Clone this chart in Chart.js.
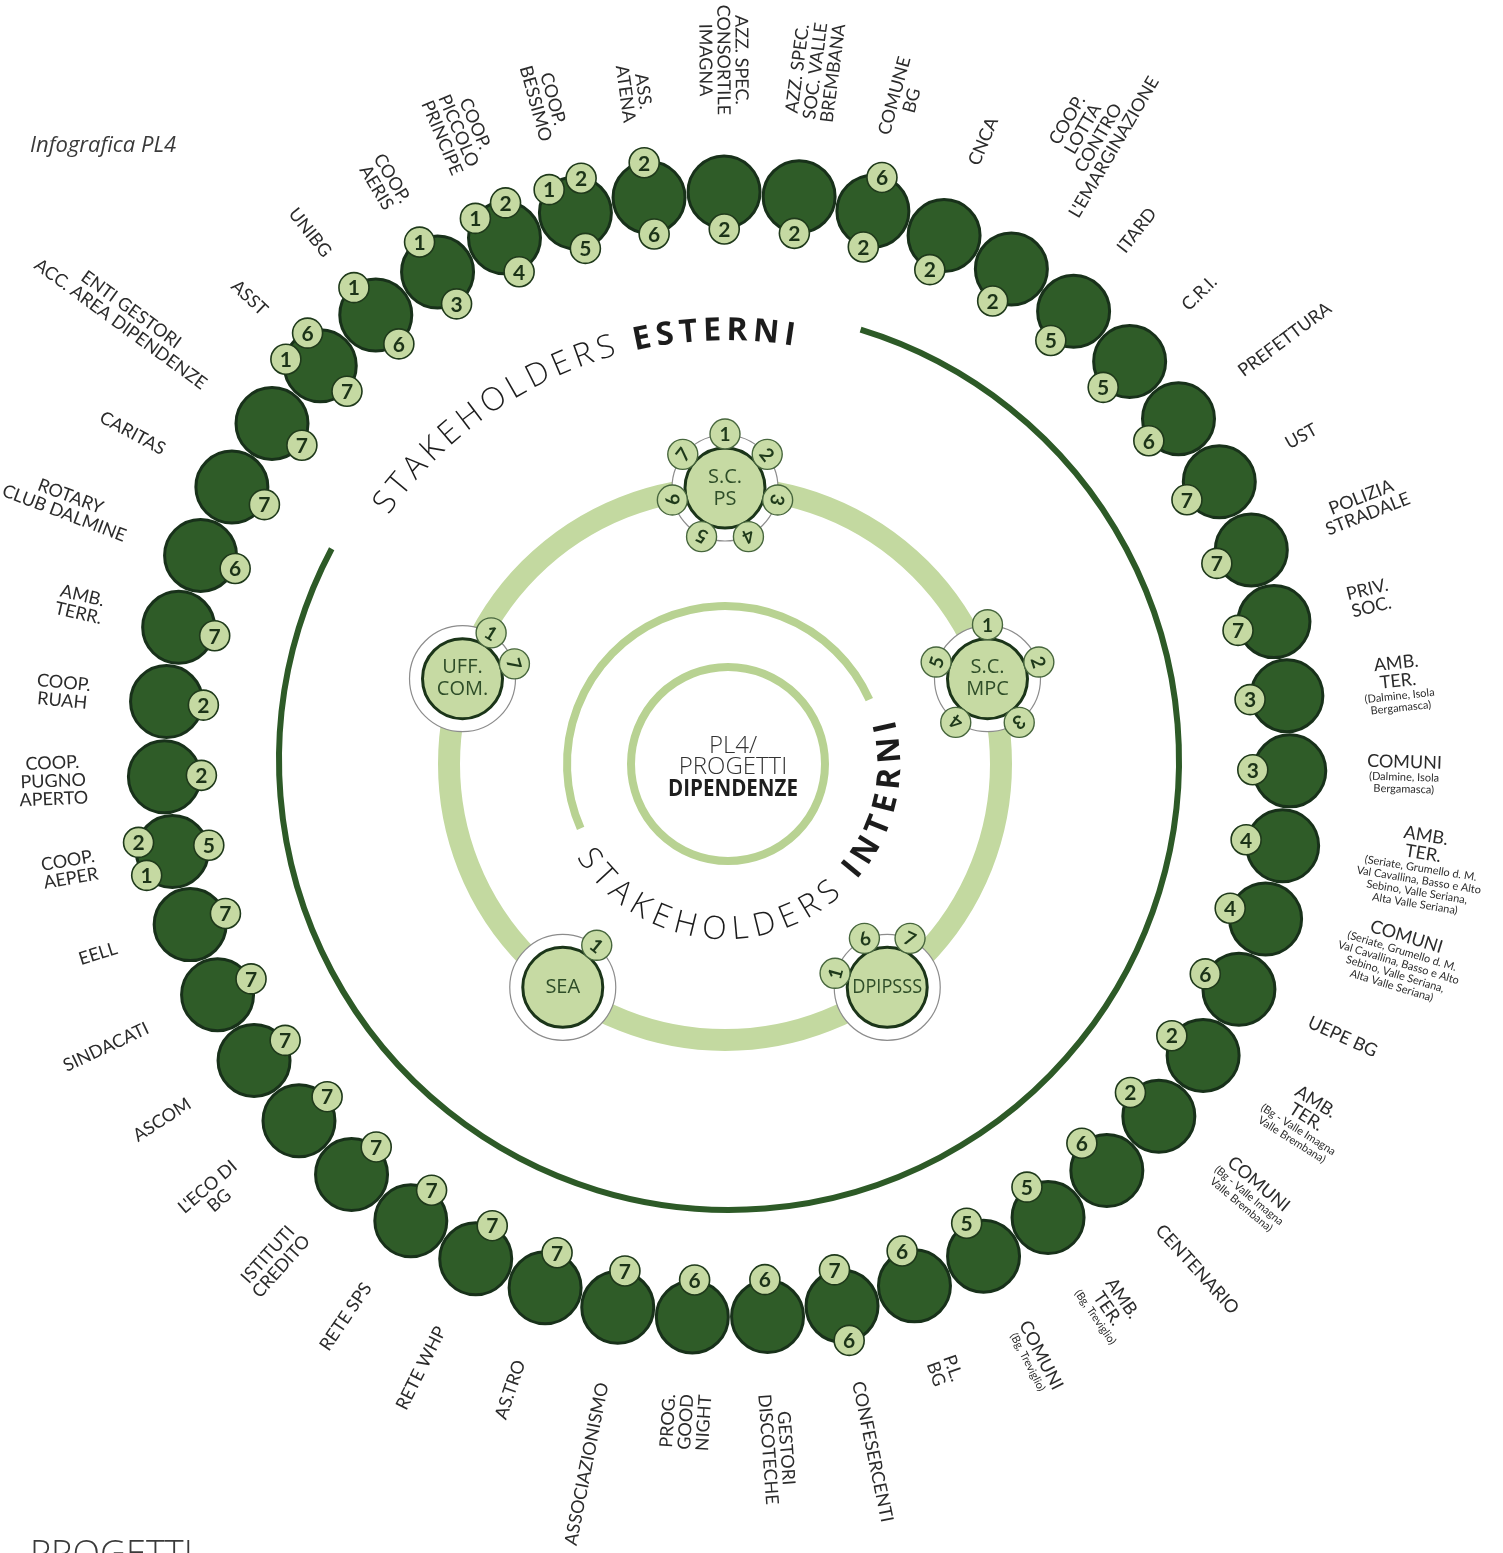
<!DOCTYPE html>
<html>
<head>
<meta charset="utf-8">
<title>Infografica PL4</title>
<script src="https://cdn.jsdelivr.net/npm/chart.js@4.4.1/dist/chart.umd.min.js"></script>
<style>
  html, body { margin: 0; padding: 0; background: #fff; }
  #wrap { position: relative; width: 1503px; height: 1553px; overflow: hidden; }
  #wrap canvas { position: absolute; left: 0; top: 0; }
</style>
</head>
<body>
<div id="wrap">
  <canvas id="outerChart" width="1503" height="1553"></canvas>
  <canvas id="innerChart" width="1503" height="1553"></canvas>
</div>
<script>
// ===============================
// DATA
// ===============================

// stakeholders esterni, clockwise from the top
const stakeholders = [
    ["AZZ. SPEC.", "CONSORTILE", "IMAGNA"],
    ["AZZ. SPEC.", "SOC. VALLE", "BREMBANA"],
    ["COMUNE", "BG"],
    ["CNCA"],
    ["COOP.", "LOTTA", "CONTRO", "L'EMARGINAZIONE"],
    ["ITARD"],
    ["C.R.I."],
    ["PREFETTURA"],
    ["UST"],
    ["POLIZIA", "STRADALE"],
    ["PRIV.", "SOC."],
    ["AMB.", "TER."],
    ["COMUNI"],
    ["AMB.", "TER."],
    ["COMUNI"],
    ["UEPE BG"],
    ["AMB.", "TER."],
    ["COMUNI"],
    ["CENTENARIO"],
    ["AMB.", "TER."],
    ["COMUNI"],
    ["P.L.", "BG"],
    ["CONFESERCENTI"],
    ["GESTORI", "DISCOTECHE"],
    ["PROG.", "GOOD", "NIGHT"],
    ["ASSOCIAZIONISMO"],
    ["AS.TRO"],
    ["RETE WHP"],
    ["RETE SPS"],
    ["ISTITUTI", "CREDITO"],
    ["L'ECO DI", "BG"],
    ["ASCOM"],
    ["SINDACATI"],
    ["EELL"],
    ["COOP.", "AEPER"],
    ["COOP.", "PUGNO", "APERTO"],
    ["COOP.", "RUAH"],
    ["AMB.", "TERR."],
    ["ROTARY", "CLUB DALMINE"],
    ["CARITAS"],
    ["ENTI GESTORI", "ACC. AREA DIPENDENZE"],
    ["ASST"],
    ["UNIBG"],
    ["COOP.", "AERIS"],
    ["COOP.", "PICCOLO", "PRINCIPE"],
    ["COOP.", "BESSIMO"],
    ["ASS.", "ATENA"]
];

// small print under some names (by stakeholder index)
const notes = {
    11: ["(Dalmine, Isola", "Bergamasca)"],
    12: ["(Dalmine, Isola", "Bergamasca)"],
    13: ["(Seriate, Grumello d. M.", "Val Cavallina, Basso e Alto", "Sebino, Valle Seriana,", "Alta Valle Seriana)"],
    14: ["(Seriate, Grumello d. M.", "Val Cavallina, Basso e Alto", "Sebino, Valle Seriana,", "Alta Valle Seriana)"],
    16: ["(Bg - Valle Imagna", "Valle Brembana)"],
    17: ["(Bg - Valle Imagna", "Valle Brembana)"],
    19: ["(Bg, Treviglio)"],
    20: ["(Bg, Treviglio)"]
};

// every stakeholder sits on the same ring
const linked = [1, 1, 1, 1, 1, 1, 1, 1, 1, 1, 1, 1, 1, 1, 1, 1, 1, 1, 1, 1, 1, 1, 1, 1,
                1, 1, 1, 1, 1, 1, 1, 1, 1, 1, 1, 1, 1, 1, 1, 1, 1, 1, 1, 1, 1, 1, 1];

// number on the inner side of each circle
const innerBadge = [2, 2, 2, 2, 2, 5, 5, 6, 7, 7, 7, 3, 3, 4, 4, 6, 2, 2, 6, 5, 5, 6, 7, 6,
                    6, 7, 7, 7, 7, 7, 7, 7, 7, 7, 5, 2, 2, 7, 6, 7, 7, 7, 6, 3, 4, 5, 6];

// numbers on the outer side of each circle
const outerBadges = [[], [], [6], [], [], [], [], [], [], [], [], [], [], [], [], [], [], [], [], [], [], [], [6], [],
                     [], [], [], [], [], [], [], [], [], [], [1, 2], [], [], [], [], [], [], [1, 6], [1], [1], [1, 2], [1, 2], [2]];

// stakeholders interni
const internal = [["S.C.", "PS"], ["S.C.", "MPC"], ["DPIPSSS"], ["SEA"], ["UFF.", "COM."]];
const internalLinked = [1, 1, 1, 1, 1];
const internalBadges = [[1, 2, 3, 4, 5, 6, 7], [1, 2, 3, 4, 5], [1, 6, 7], [1], [1, 7]];

// ===============================
// STYLE
// ===============================
const DEG = Math.PI / 180;
const DARK = "#2f5c28";
const DARK_LINE = "#18311a";
const PALE = "#c5d9a2";
const BAND = "#c3d9a0";
const ARC_LIGHT = "#b8d292";
const TXT = "#2b2b2b";

// badge angles around the internal circles (deg, clockwise from top)
const badgeStart = [0, 0, -75, 39, 32];
const badgeStep = [360 / 7, 72, 50, 0, 42];

const outerBadgeStyle = { r: 15, fill: PALE, stroke: "#1f3a1b", lw: 1.6, color: "#1c3318", font: "bold 21px Lato" };
const innerBadgeStyle = { r: 15, fill: "#c8dca6", stroke: "#47663d", lw: 1.4, color: "#1f3a1b", font: "bold 19px Lato" };

function badge(ctx, x, y, n, rot, st) {
    ctx.save();
    ctx.translate(x, y);
    ctx.beginPath();
    ctx.arc(0, 0, st.r, 0, Math.PI * 2);
    ctx.fillStyle = st.fill;
    ctx.fill();
    ctx.lineWidth = st.lw;
    ctx.strokeStyle = st.stroke;
    ctx.stroke();
    ctx.rotate(rot);
    ctx.fillStyle = st.color;
    ctx.font = st.font;
    ctx.textAlign = "center";
    ctx.textBaseline = "middle";
    ctx.fillText(String(n), 0, 1);
    ctx.restore();
}

function strokeArc(ctx, cx, cy, r, fromDeg, toDeg, lw, color) {
    ctx.beginPath();
    ctx.arc(cx, cy, r, (fromDeg - 90) * DEG, (toDeg - 90) * DEG);
    ctx.lineWidth = lw;
    ctx.strokeStyle = color;
    ctx.stroke();
}

// text laid along a circle, first glyph centred at fromDeg, last at toDeg
function arcText(ctx, cx, cy, radius, parts, fromDeg, toDeg, color) {
    const dir = toDeg >= fromDeg ? 1 : -1;
    const glyphs = [];
    parts.forEach(p => {
        ctx.font = p.font;
        for (const ch of p.text) glyphs.push({ ch, font: p.font, w: ctx.measureText(ch).width });
    });
    const n = glyphs.length;
    const arcLen = Math.abs(toDeg - fromDeg) * DEG * radius;
    const natural = glyphs.reduce((t, g) => t + g.w, 0);
    const gap = (arcLen - natural + glyphs[0].w / 2 + glyphs[n - 1].w / 2) / (n - 1);
    let s = 0;
    ctx.save();
    ctx.fillStyle = color;
    ctx.textAlign = "center";
    ctx.textBaseline = "middle";
    glyphs.forEach((g, k) => {
        if (k > 0) s += glyphs[k - 1].w / 2 + g.w / 2 + gap;
        const th = fromDeg * DEG + dir * s / radius;
        ctx.save();
        ctx.translate(cx + radius * Math.sin(th), cy - radius * Math.cos(th));
        ctx.rotate(dir > 0 ? th : th - Math.PI);
        ctx.font = g.font;
        ctx.fillText(g.ch, 0, 0);
        ctx.restore();
    });
    ctx.restore();
}

// radial label block, inner edge at distance `start` from the centre
function radialLabel(ctx, scale, i, lines, small, start) {
    const MAIN = "18px Lato", SMALL = "11px Lato", LH = 18, SLH = 12;
    const th = scale.getIndexAngle(i);
    const a = th - Math.PI / 2;
    const rightSide = th > 0.01 && th < Math.PI - 0.01;
    let w = 0;
    ctx.font = MAIN;
    lines.forEach(t => { w = Math.max(w, ctx.measureText(t).width); });
    ctx.font = SMALL;
    small.forEach(t => { w = Math.max(w, ctx.measureText(t).width); });
    const h = lines.length * LH + small.length * SLH;
    const d = start + w / 2;
    ctx.save();
    ctx.translate(scale.xCenter + Math.cos(a) * d, scale.yCenter + Math.sin(a) * d);
    ctx.rotate(rightSide ? a : a + Math.PI);
    ctx.fillStyle = TXT;
    ctx.textAlign = "center";
    ctx.textBaseline = "middle";
    let y = -h / 2;
    ctx.font = MAIN;
    lines.forEach(t => { ctx.fillText(t, 0, y + LH / 2); y += LH; });
    ctx.font = SMALL;
    small.forEach(t => { ctx.fillText(t, 0, y + SLH / 2); y += SLH; });
    ctx.restore();
}

// ===============================
// PLUGINS
// ===============================
const outerDecor = {
    id: "outerDecor",
    afterDatasetsDraw(chart) {
        const ctx = chart.ctx, s = chart.scales.r;
        const ringR = s.getDistanceFromCenterForValue(1);
        stakeholders.forEach((lines, i) => {
            const p = s.getPointPositionForValue(i, linked[i]);
            const a = p.angle;
            badge(ctx, p.x - Math.cos(a) * 37, p.y - Math.sin(a) * 37, innerBadge[i], 0, outerBadgeStyle);
            const out = outerBadges[i];
            out.forEach((n, k) => {
                const off = out.length === 1 ? 0 : [-33, 25][k] * DEG;
                badge(ctx, p.x + Math.cos(a + off) * 35, p.y + Math.sin(a + off) * 35, n, 0, outerBadgeStyle);
            });
            radialLabel(ctx, s, i, lines, notes[i] || [], ringR + 77);
        });

        arcText(ctx, s.xCenter, s.yCenter, 424, [
            { text: "STAKEHOLDERS ", font: "300 32px 'Open Sans'" },
            { text: "ESTERNI", font: "bold 32px 'Open Sans'" }
        ], -53.5, 8.5, "#1c1c1c");

        ctx.save();
        ctx.fillStyle = "#3a3a3a";
        ctx.textAlign = "left";
        ctx.textBaseline = "alphabetic";
        ctx.font = "italic 22px 'Open Sans'";
        ctx.fillText("Infografica PL4", 30, 152);
        ctx.font = "300 36px 'Open Sans'";
        ctx.fillText("PROGETTI", 30, 1566);
        ctx.restore();
    }
};

const innerDecor = {
    id: "innerDecor",
    beforeDatasetsDraw(chart) {
        const ctx = chart.ctx, s = chart.scales.r;
        const cx = s.xCenter, cy = s.yCenter, R = s.drawingArea;
        ctx.save();
        strokeArc(ctx, cx + 4, cy - 4, 450, 17, 298, 6, "#2d5a27");
        strokeArc(ctx, cx, cy, R, 0, 360, 22, BAND);
        strokeArc(ctx, cx, cy, 158, 246, 426, 8, ARC_LIGHT);
        ctx.beginPath();
        ctx.arc(cx + 3, cy, 97, 0, Math.PI * 2);
        ctx.fillStyle = "#fff";
        ctx.fill();
        ctx.lineWidth = 8;
        ctx.strokeStyle = ARC_LIGHT;
        ctx.stroke();
        internal.forEach((_, i) => {
            const p = s.getPointPositionForValue(i, internalLinked[i]);
            ctx.beginPath();
            ctx.arc(p.x, p.y, 53, 0, Math.PI * 2);
            ctx.fillStyle = "#fff";
            ctx.fill();
            ctx.lineWidth = 1.2;
            ctx.strokeStyle = "#8c8c8c";
            ctx.stroke();
        });
        ctx.restore();
    },
    afterDatasetsDraw(chart) {
        const ctx = chart.ctx, s = chart.scales.r;
        const cx = s.xCenter, cy = s.yCenter;
        ctx.save();
        ctx.textAlign = "center";
        ctx.textBaseline = "middle";
        internal.forEach((lines, i) => {
            const p = s.getPointPositionForValue(i, internalLinked[i]);
            ctx.fillStyle = "#2e4d28";
            ctx.font = "20px 'Open Sans'";
            lines.forEach((t, k) => {
                ctx.fillText(t, p.x, p.y + (k - (lines.length - 1) / 2) * 22, 70);
            });
            internalBadges[i].forEach((n, k) => {
                const b = (badgeStart[i] + k * badgeStep[i]) * DEG;
                badge(ctx, p.x + 54 * Math.sin(b), p.y - 54 * Math.cos(b), n, b, innerBadgeStyle);
            });
        });

        ctx.fillStyle = "#333";
        ctx.font = "300 24px 'Open Sans'";
        ctx.fillText("PL4/", cx + 8, cy - 18);
        ctx.fillText("PROGETTI", cx + 8, cy + 3);
        ctx.fillStyle = "#1e1e1e";
        ctx.font = "bold 23px 'Open Sans'";
        ctx.fillText("DIPENDENZE", cx + 8, cy + 25, 130);
        ctx.restore();

        arcText(ctx, cx, cy, 166, [
            { text: "STAKEHOLDERS ", font: "300 32px 'Open Sans'" },
            { text: "INTERNI", font: "bold 32px 'Open Sans'" }
        ], 235, 77, "#1c1c1c");
    }
};

// ===============================
// CHARTS
// ===============================
const hidden = {
    grid: { display: false },
    angleLines: { display: false },
    ticks: { display: false },
    pointLabels: { display: false }
};

new Chart(document.getElementById("outerChart"), {
    type: "radar",
    data: {
        labels: stakeholders,
        datasets: [{
            data: linked,
            showLine: false,
            fill: false,
            pointRadius: 36,
            pointHoverRadius: 36,
            pointBackgroundColor: DARK,
            pointBorderColor: DARK_LINE,
            pointBorderWidth: 3
        }]
    },
    options: {
        responsive: false,
        animation: false,
        devicePixelRatio: 1,
        events: [],
        layout: { padding: { left: 164, right: 213, top: 192, bottom: 235 } },
        plugins: { legend: { display: false }, tooltip: { enabled: false } },
        scales: { r: Object.assign({ min: 0, max: 1, startAngle: -0.3 }, hidden) }
    },
    plugins: [outerDecor]
});

new Chart(document.getElementById("innerChart"), {
    type: "radar",
    data: {
        labels: internal,
        datasets: [{
            data: internalLinked,
            showLine: false,
            fill: false,
            pointRadius: 40,
            pointHoverRadius: 40,
            pointBackgroundColor: "#c6daa3",
            pointBorderColor: "#1b3519",
            pointBorderWidth: 3
        }]
    },
    options: {
        responsive: false,
        animation: false,
        devicePixelRatio: 1,
        events: [],
        layout: { padding: { left: 449, right: 502, top: 488, bottom: 513 } },
        plugins: { legend: { display: false }, tooltip: { enabled: false } },
        scales: { r: Object.assign({ min: 0, max: 1 }, hidden) }
    },
    plugins: [innerDecor]
});
</script>
</body>
</html>
